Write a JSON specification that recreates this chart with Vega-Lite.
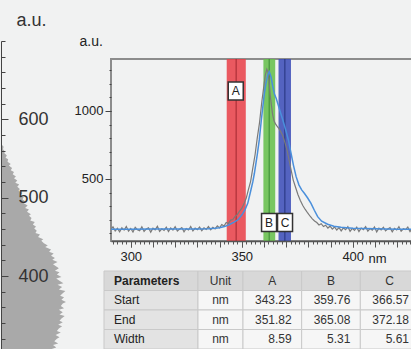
{
  "$schema": "https://vega.github.io/schema/vega-lite/v6.json",
  "width": 303,
  "height": 182,
  "padding": {"left": 0, "top": 11, "right": 0, "bottom": 0},
  "background": "#f1f2f2",
  "config": {"view": {"stroke": "#8c8c8c", "strokeWidth": 2}, "font": "Liberation Sans"},
  "datasets": {
    "bands": [
      {"band": "A", "start": 343.23, "end": 351.82, "mid": 347.5},
      {"band": "B", "start": 359.76, "end": 365.08, "mid": 362.4},
      {"band": "C", "start": 366.57, "end": 372.18, "mid": 369.4}
    ],
    "labels": [
      {"label": "A", "nm": 347.3, "au": 1147},
      {"label": "B", "nm": 362.3, "au": 180},
      {"label": "C", "nm": 369.5, "au": 180}
    ],
    "measured": [
      {"nm":291,"v":128},{"nm":292,"v":148},{"nm":293,"v":118},{"nm":294,"v":137},{"nm":295,"v":112},{"nm":296,"v":142},{"nm":297,"v":124},{"nm":298,"v":150},{"nm":299,"v":116},{"nm":300,"v":136},
      {"nm":301,"v":110},{"nm":302,"v":144},{"nm":303,"v":127},{"nm":304,"v":119},{"nm":305,"v":148},{"nm":306,"v":114},{"nm":307,"v":133},{"nm":308,"v":141},{"nm":309,"v":109},{"nm":310,"v":138},
      {"nm":311,"v":126},{"nm":312,"v":152},{"nm":313,"v":115},{"nm":314,"v":134},{"nm":315,"v":122},{"nm":316,"v":146},{"nm":317,"v":113},{"nm":318,"v":140},{"nm":319,"v":124},{"nm":320,"v":149},
      {"nm":321,"v":117},{"nm":322,"v":131},{"nm":323,"v":143},{"nm":324,"v":111},{"nm":325,"v":136},{"nm":326,"v":125},{"nm":327,"v":151},{"nm":328,"v":118},{"nm":329,"v":139},{"nm":330,"v":127},
      {"nm":331,"v":146},{"nm":332,"v":120},{"nm":333,"v":141},{"nm":334,"v":129},{"nm":335,"v":150},{"nm":336,"v":126},{"nm":337,"v":145},{"nm":338,"v":133},{"nm":339,"v":155},{"nm":340,"v":140},
      {"nm":341,"v":165},{"nm":342,"v":154},{"nm":343,"v":180},{"nm":344,"v":172},{"nm":345,"v":198},{"nm":346,"v":202},{"nm":347,"v":224},{"nm":348,"v":238},{"nm":349,"v":264},{"nm":350,"v":283},
      {"nm":351,"v":317},{"nm":352,"v":358},{"nm":353,"v":422},{"nm":354,"v":483},{"nm":355,"v":582},{"nm":356,"v":678},{"nm":357,"v":802},{"nm":358,"v":912},{"nm":359,"v":1062},{"nm":360,"v":1188},
      {"nm":360.6,"v":1262},{"nm":361.3,"v":1307},{"nm":361.8,"v":1288},{"nm":362.3,"v":1222},{"nm":362.8,"v":1120},{"nm":363.3,"v":1050},{"nm":363.9,"v":975},{"nm":364.5,"v":930},{"nm":365.2,"v":905},{"nm":365.9,"v":888},
      {"nm":366.7,"v":872},{"nm":367.6,"v":846},{"nm":368.5,"v":818},{"nm":369.5,"v":765},{"nm":370.4,"v":712},{"nm":371.3,"v":640},{"nm":372.2,"v":568},{"nm":373.2,"v":492},{"nm":374.2,"v":441},{"nm":375.3,"v":386},
      {"nm":376.4,"v":342},{"nm":377.5,"v":305},{"nm":378.6,"v":276},{"nm":379.7,"v":250},{"nm":380.8,"v":226},{"nm":381.8,"v":207},{"nm":382.8,"v":191},{"nm":383.8,"v":180},{"nm":384.8,"v":162},{"nm":385.8,"v":171},
      {"nm":386.8,"v":150},{"nm":387.8,"v":160},{"nm":388.8,"v":139},{"nm":389.8,"v":153},{"nm":390.8,"v":131},{"nm":391.8,"v":147},{"nm":392.8,"v":124},{"nm":393.8,"v":143},{"nm":394.8,"v":118},{"nm":395.8,"v":140},
      {"nm":396.8,"v":127},{"nm":397.8,"v":149},{"nm":398.8,"v":115},{"nm":399.8,"v":137},{"nm":400.8,"v":122},{"nm":401.8,"v":146},{"nm":402.8,"v":113},{"nm":403.8,"v":139},{"nm":404.8,"v":128},{"nm":405.8,"v":150},
      {"nm":406.8,"v":117},{"nm":407.8,"v":135},{"nm":408.8,"v":124},{"nm":409.8,"v":147},{"nm":410.8,"v":111},{"nm":411.8,"v":138},{"nm":412.8,"v":126},{"nm":413.8,"v":145},{"nm":414.8,"v":119},{"nm":415.8,"v":133},
      {"nm":416.8,"v":142},{"nm":417.8,"v":112},{"nm":418.8,"v":137},{"nm":419.8,"v":125},{"nm":420.8,"v":149},{"nm":421.8,"v":116},{"nm":422.8,"v":134},{"nm":423.8,"v":128},{"nm":424.8,"v":146},{"nm":425.8,"v":113},
      {"nm":426.8,"v":139},{"nm":427.8,"v":124}
    ],
    "smooth": [
      {"nm":291,"v":131},{"nm":300,"v":131},{"nm":310,"v":132},{"nm":320,"v":132},{"nm":330,"v":133},{"nm":335,"v":134},{"nm":338,"v":137},{"nm":340,"v":141},{"nm":342.2,"v":150},{"nm":344,"v":162},
      {"nm":346,"v":178},{"nm":348.2,"v":199},{"nm":350,"v":235},{"nm":351.5,"v":275},{"nm":352.7,"v":321},{"nm":354,"v":410},{"nm":355,"v":480},{"nm":355.7,"v":542},{"nm":357,"v":680},{"nm":357.9,"v":787},
      {"nm":358.8,"v":930},{"nm":359.5,"v":1032},{"nm":360.2,"v":1130},{"nm":360.9,"v":1203},{"nm":361.7,"v":1265},{"nm":362.4,"v":1289},{"nm":363.2,"v":1250},{"nm":364,"v":1178},{"nm":364.8,"v":1120},{"nm":365.5,"v":1093},
      {"nm":366.5,"v":1040},{"nm":367.5,"v":985},{"nm":368.5,"v":934},{"nm":369.8,"v":860},{"nm":371,"v":787},{"nm":372.2,"v":689},{"nm":373.3,"v":600},{"nm":374.5,"v":517},{"nm":375.8,"v":455},{"nm":377,"v":420},
      {"nm":378.2,"v":395},{"nm":379.7,"v":360},{"nm":381.2,"v":321},{"nm":382.7,"v":270},{"nm":384.2,"v":223},{"nm":386,"v":190},{"nm":388.7,"v":167},{"nm":391.5,"v":152},{"nm":394.7,"v":145},{"nm":400,"v":138},
      {"nm":410,"v":134},{"nm":420,"v":131},{"nm":428,"v":130}
    ],
    "side": [
      {"au":307,"count":78},{"au":309,"count":85},{"au":312,"count":80},{"au":314,"count":88},{"au":317,"count":82},{"au":320,"count":86},{"au":322,"count":90},{"au":325,"count":84},{"au":328,"count":92},{"au":330,"count":86},
      {"au":333,"count":89},{"au":336,"count":94},{"au":338,"count":88},{"au":341,"count":95},{"au":343,"count":90},{"au":346,"count":93},{"au":349,"count":98},{"au":351,"count":90},{"au":354,"count":95},{"au":357,"count":89},
      {"au":359,"count":97},{"au":362,"count":92},{"au":365,"count":95},{"au":367,"count":100},{"au":370,"count":93},{"au":373,"count":97},{"au":375,"count":91},{"au":378,"count":95},{"au":381,"count":99},{"au":383,"count":89},
      {"au":386,"count":94},{"au":389,"count":87},{"au":391,"count":96},{"au":394,"count":90},{"au":397,"count":85},{"au":399,"count":93},{"au":402,"count":86},{"au":405,"count":90},{"au":407,"count":83},{"au":410,"count":89},
      {"au":413,"count":84},{"au":415,"count":80},{"au":418,"count":87},{"au":421,"count":79},{"au":423,"count":83},{"au":426,"count":77},{"au":429,"count":81},{"au":431,"count":74},{"au":434,"count":77},{"au":437,"count":68},
      {"au":439,"count":72},{"au":442,"count":66},{"au":445,"count":62},{"au":447,"count":65},{"au":450,"count":57},{"au":453,"count":60},{"au":455,"count":53},{"au":458,"count":55},{"au":461,"count":51},{"au":463,"count":54},
      {"au":466,"count":49},{"au":469,"count":52},{"au":471,"count":45},{"au":474,"count":47},{"au":477,"count":43},{"au":479,"count":46},{"au":482,"count":40},{"au":485,"count":43},{"au":487,"count":37},{"au":490,"count":41},
      {"au":493,"count":35},{"au":495,"count":38},{"au":498,"count":33},{"au":501,"count":35},{"au":503,"count":29},{"au":506,"count":33},{"au":509,"count":27},{"au":511,"count":29},{"au":514,"count":25},{"au":517,"count":28},
      {"au":519,"count":22},{"au":522,"count":25},{"au":525,"count":20},{"au":527,"count":23},{"au":530,"count":18},{"au":533,"count":20},{"au":535,"count":15},{"au":538,"count":17},{"au":541,"count":12},{"au":543,"count":15},
      {"au":546,"count":10},{"au":549,"count":11},{"au":551,"count":7},{"au":554,"count":9},{"au":557,"count":5},{"au":559,"count":6},{"au":562,"count":3},{"au":565,"count":4},{"au":568,"count":1},{"au":571,"count":0},
      {"au":600,"count":0},{"au":700,"count":0}
    ],
    "table": [
      {"row":"Header","col":"Parameters","text":"Parameters"},{"row":"Header","col":"Unit","text":"Unit"},{"row":"Header","col":"A","text":"A"},{"row":"Header","col":"B","text":"B"},{"row":"Header","col":"C","text":"C"},
      {"row":"Start","col":"Parameters","text":"Start"},{"row":"Start","col":"Unit","text":"nm"},{"row":"Start","col":"A","text":"343.23"},{"row":"Start","col":"B","text":"359.76"},{"row":"Start","col":"C","text":"366.57"},
      {"row":"End","col":"Parameters","text":"End"},{"row":"End","col":"Unit","text":"nm"},{"row":"End","col":"A","text":"351.82"},{"row":"End","col":"B","text":"365.08"},{"row":"End","col":"C","text":"372.18"},
      {"row":"Width","col":"Parameters","text":"Width"},{"row":"Width","col":"Unit","text":"nm"},{"row":"Width","col":"A","text":"8.59"},{"row":"Width","col":"B","text":"5.31"},{"row":"Width","col":"C","text":"5.61"}
    ]
  },
  "layer": [
    {
      "layer": [
        {
          "data": {"name": "bands"},
          "mark": {"type": "rect", "opacity": 0.88},
          "encoding": {
            "x": {"field": "start", "type": "quantitative",
              "scale": {"domain": [291.1, 427.6], "nice": false, "zero": false},
              "axis": {"orient": "bottom", "format": "d", "values": [300, 350, 400],
                "tickSize": 6, "labelFontSize": 13, "labelColor": "#222", "tickColor": "#555", "domainColor": "#555", "domainWidth": 1.5,
                "labelPadding": 3, "labelOverlap": false, "labelFlush": false, "grid": false,
                "title": "nm", "titleFontSize": 13, "titleFontWeight": "normal", "titleColor": "#222",
                "titleX": 257, "titleY": 21, "titleAlign": "left", "titleBaseline": "alphabetic", "titleAngle": 0, "zindex": 1}},
            "x2": {"field": "end"},
            "color": {"field": "band", "type": "nominal", "scale": {"domain": ["A", "B", "C"], "range": ["#e8434b", "#66bf4c", "#3d4fb8"]}, "legend": null}
          }
        },
        {
          "data": {"name": "bands"},
          "mark": {"type": "rule", "strokeWidth": 1.5, "opacity": 0.7},
          "encoding": {
            "x": {"field": "mid", "type": "quantitative",
              "axis": {"orient": "bottom", "values": [300,310,320,330,340,350,360,370,380,390,400,410,420],
                "tickSize": 6, "tickColor": "#555", "labels": false, "domain": false, "grid": false, "title": null, "zindex": 1}},
            "stroke": {"field": "band", "type": "nominal", "scale": {"domain": ["A", "B", "C"], "range": ["#a52a32", "#3b8b35", "#27357f"]}, "legend": null}
          }
        },
        {
          "data": {"name": "measured"},
          "mark": {"type": "line", "color": "#7a7a7a", "strokeWidth": 1.2, "clip": true},
          "encoding": {
            "x": {"field": "nm", "type": "quantitative",
              "axis": {"orient": "bottom",
                "values": [292,294,296,298,300,302,304,306,308,310,312,314,316,318,320,322,324,326,328,330,332,334,336,338,340,342,344,346,348,350,352,354,356,358,360,362,364,366,368,370,372,374,376,378,380,382,384,386,388,390,392,394,396,398,400,402,404,406,408,410,412,414,416,418,420,422,424,426],
                "tickSize": 3, "tickColor": "#555", "labels": false, "domain": false, "grid": false, "title": null, "zindex": 1}},
            "y": {"field": "v", "type": "quantitative",
              "scale": {"domain": [44, 1382], "nice": false, "zero": false},
              "axis": {"orient": "left", "format": "d", "values": [500, 1000],
                "tickSize": 6, "domain": false, "grid": false, "labelFontSize": 13, "labelColor": "#222", "tickColor": "#444",
                "labelPadding": 2, "labelOverlap": false, "labelFlush": false,
                "title": "a.u.", "titleAngle": 0, "titleX": -32, "titleY": -14, "titleAlign": "left", "titleBaseline": "alphabetic",
                "titleFontSize": 14, "titleFontWeight": "normal", "titleColor": "#222", "zindex": 1}}
          }
        },
        {
          "data": {"name": "smooth"},
          "mark": {"type": "line", "color": "#4a8fdb", "strokeWidth": 1.5, "clip": true},
          "encoding": {
            "x": {"field": "nm", "type": "quantitative", "axis": null},
            "y": {"field": "v", "type": "quantitative",
              "axis": {"orient": "left", "values": [100,200,300,400,500,600,700,800,900,1000,1100,1200,1300],
                "tickSize": 2, "tickColor": "#444", "labels": false, "domain": false, "grid": false, "title": null, "zindex": 1}}
          }
        },
        {
          "data": {"name": "labels"},
          "mark": {"type": "rect", "width": 15, "height": 18, "fill": "#ffffff", "stroke": "#333333", "strokeWidth": 1.5},
          "encoding": {
            "x": {"field": "nm", "type": "quantitative", "axis": null},
            "y": {"field": "au", "type": "quantitative", "axis": null}
          }
        },
        {
          "data": {"name": "labels"},
          "mark": {"type": "text", "fontSize": 12, "color": "#222"},
          "encoding": {
            "x": {"field": "nm", "type": "quantitative", "axis": null},
            "y": {"field": "au", "type": "quantitative", "axis": null},
            "text": {"field": "label"}
          }
        }
      ],
      "resolve": {"axis": {"x": "independent", "y": "independent"}}
    },
    {
      "data": {"name": "side"},
      "mark": {"type": "area", "orient": "horizontal", "fill": "#a9a9a9"},
      "encoding": {
        "y": {"field": "au", "type": "quantitative",
          "scale": {"domain": [307, 700], "range": [290, -18], "nice": false, "zero": false},
          "axis": {"orient": "right", "offset": -413, "format": "d",
            "values": [320,340,360,380,400,420,440,460,480,500,520,540,560,580,600,620,640,660,680,700],
            "labelExpr": "datum.value % 100 === 0 && datum.value < 700 ? datum.label : ''",
            "tickSize": {"condition": {"test": "datum.value % 100 === 0 && datum.value < 700", "value": 7}, "value": 4},
            "labelFontSize": 18, "labelPadding": 10, "labelColor": "#333", "tickColor": "#444", "domainColor": "#444",
            "labelOverlap": false, "labelFlush": false, "grid": false,
            "title": "a.u.", "titleAngle": 0, "titleX": 15, "titleY": -34, "titleAlign": "left", "titleBaseline": "alphabetic",
            "titleFontSize": 18, "titleFontWeight": "normal", "titleColor": "#333", "zindex": 1}},
        "x": {"field": "count", "type": "quantitative", "scale": {"domain": [0, 100], "range": [-110, -45], "nice": false}, "axis": null},
        "x2": {"datum": 0}
      }
    },
    {
      "data": {"name": "table"},
      "layer": [
        {
          "transform": [{"filter": "datum.col === 'Parameters'"}],
          "layer": [
            {
              "mark": {"type": "rect", "stroke": "#c9c9c9", "strokeWidth": 1},
              "encoding": {
                "x": {"field": "col", "type": "nominal", "scale": {"domain": ["Parameters"], "range": [-7, 87], "paddingInner": 0, "paddingOuter": 0}, "axis": null},
                "y": {"field": "row", "type": "nominal", "scale": {"domain": ["Header", "Start", "End", "Width"], "range": [212, 290], "paddingInner": 0, "paddingOuter": 0}, "axis": null},
                "fill": {"condition": {"test": "datum.row === 'Header'", "value": "#d8d8d8"}, "value": "#e3e3e3"}
              }
            },
            {
              "mark": {"type": "text", "align": "left", "dx": 10, "fontSize": 12, "color": "#222"},
              "encoding": {
                "x": {"field": "col", "type": "nominal", "bandPosition": 0},
                "y": {"field": "row", "type": "nominal"},
                "text": {"field": "text"},
                "opacity": {"condition": {"test": "datum.row === 'Header'", "value": 0}, "value": 1}
              }
            },
            {
              "transform": [{"filter": "datum.row === 'Header'"}],
              "mark": {"type": "text", "align": "left", "dx": 10, "fontSize": 12, "fontWeight": "bold", "color": "#222"},
              "encoding": {
                "x": {"field": "col", "type": "nominal", "bandPosition": 0},
                "y": {"field": "row", "type": "nominal"},
                "text": {"field": "text"}
              }
            }
          ]
        },
        {
          "transform": [{"filter": "datum.col === 'Unit'"}],
          "layer": [
            {
              "mark": {"type": "rect", "stroke": "#c9c9c9", "strokeWidth": 1},
              "encoding": {
                "x": {"field": "col", "type": "nominal", "scale": {"domain": ["Unit"], "range": [87, 132], "paddingInner": 0, "paddingOuter": 0}, "axis": null},
                "y": {"field": "row", "type": "nominal"},
                "fill": {"condition": {"test": "datum.row === 'Header'", "value": "#d8d8d8"}, "value": "#f6f6f6"}
              }
            },
            {
              "mark": {"type": "text", "align": "center", "fontSize": 12, "color": "#333"},
              "encoding": {
                "x": {"field": "col", "type": "nominal"},
                "y": {"field": "row", "type": "nominal"},
                "text": {"field": "text"}
              }
            }
          ]
        },
        {
          "transform": [{"filter": "datum.col !== 'Parameters' && datum.col !== 'Unit'"}],
          "layer": [
            {
              "mark": {"type": "rect", "stroke": "#c9c9c9", "strokeWidth": 1},
              "encoding": {
                "x": {"field": "col", "type": "nominal", "scale": {"domain": ["A", "B", "C"], "range": [132, 308], "paddingInner": 0, "paddingOuter": 0}, "axis": null},
                "y": {"field": "row", "type": "nominal"},
                "fill": {"condition": {"test": "datum.row === 'Header'", "value": "#d8d8d8"}, "value": "#f6f6f6"}
              }
            },
            {
              "transform": [{"filter": "datum.row === 'Header'"}],
              "mark": {"type": "text", "align": "center", "fontSize": 12, "color": "#333"},
              "encoding": {
                "x": {"field": "col", "type": "nominal"},
                "y": {"field": "row", "type": "nominal"},
                "text": {"field": "text"}
              }
            },
            {
              "transform": [{"filter": "datum.row !== 'Header'"}],
              "mark": {"type": "text", "align": "right", "dx": -10, "fontSize": 12, "color": "#333"},
              "encoding": {
                "x": {"field": "col", "type": "nominal", "bandPosition": 1},
                "y": {"field": "row", "type": "nominal"},
                "text": {"field": "text"}
              }
            }
          ]
        }
      ],
      "resolve": {"scale": {"x": "independent"}}
    }
  ],
  "resolve": {"scale": {"x": "independent", "y": "independent"}}
}
